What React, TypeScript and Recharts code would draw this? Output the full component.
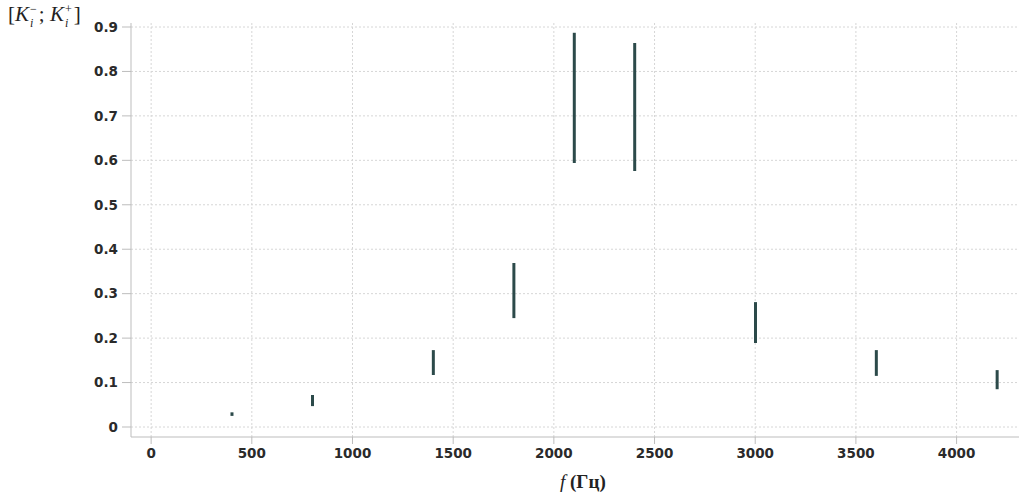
import React from "react";
import {
    ComposedChart,
    Bar,
    XAxis,
    YAxis,
    CartesianGrid,
} from "recharts";

// frequencies (Hz) and interval bounds [K-; K+]
const freqs = [400, 800, 1400, 1800, 2100, 2400, 3000, 3600, 4200];
const kMinus = [0.025, 0.047, 0.117, 0.245, 0.594, 0.576, 0.189, 0.115, 0.085];
const kPlus = [0.033, 0.072, 0.173, 0.369, 0.887, 0.864, 0.281, 0.173, 0.128];

const xTicks = [0, 500, 1000, 1500, 2000, 2500, 3000, 3500, 4000];
const yTicks = [0, 0.1, 0.2, 0.3, 0.4, 0.5, 0.6, 0.7, 0.8, 0.9];

const chartData = freqs.map((f, i) => ({
    f,
    range: [kMinus[i], kPlus[i]],
}));

const tickStyle = {
    fill: "#2a2a2a",
    fontSize: 13.5,
    fontWeight: 700,
    fontFamily: "DejaVu Sans, sans-serif",
};

const scriptStyle: React.CSSProperties = {
    display: "inline-flex",
    flexDirection: "column",
    verticalAlign: "middle",
    fontSize: 12,
    lineHeight: "14px",
    marginLeft: 1,
    marginRight: 2,
};

export default function App() {
    return (
        <div
            style={{
                position: "absolute",
                left: 0,
                top: 0,
                width: 1019,
                height: 494,
                background: "#fff",
                overflow: "hidden",
            }}
        >
            <ComposedChart
                width={1019}
                height={494}
                data={chartData}
                margin={{ top: 23, right: 0, left: 0, bottom: 27 }}
            >
                <CartesianGrid
                    stroke="#d6d6d6"
                    strokeDasharray="2 2"
                    horizontalValues={yTicks}
                    verticalValues={xTicks}
                />
                <XAxis
                    dataKey="f"
                    type="number"
                    domain={[-100, 4310]}
                    ticks={xTicks}
                    allowDataOverflow
                    height={30}
                    stroke="#bdbdbd"
                    tickSize={7}
                    tickMargin={4}
                    tick={tickStyle}
                    interval={0}
                />
                <XAxis
                    xAxisId="top"
                    orientation="top"
                    dataKey="f"
                    type="number"
                    domain={[-100, 4310]}
                    allowDataOverflow
                    height={0}
                    tick={false}
                    tickLine={false}
                    stroke="#c4c4c4"
                />
                <YAxis
                    type="number"
                    domain={[-0.0225, 0.909]}
                    ticks={yTicks}
                    allowDataOverflow
                    width={131}
                    stroke="#bdbdbd"
                    tickSize={9}
                    tickMargin={4}
                    tick={tickStyle}
                    interval={0}
                />
                <Bar
                    dataKey="range"
                    fill="#2c4a4a"
                    barSize={3}
                    isAnimationActive={false}
                />
            </ComposedChart>
            <div
                style={{
                    position: "absolute",
                    left: 8,
                    top: 2,
                    fontFamily: "Liberation Serif, serif",
                    fontSize: 21,
                    color: "#222",
                    whiteSpace: "nowrap",
                }}
            >
                [<i>K</i>
                <span style={scriptStyle}>
                    <span>−</span>
                    <i>i</i>
                </span>
                ; <i>K</i>
                <span style={scriptStyle}>
                    <span>+</span>
                    <i>i</i>
                </span>
                ]
            </div>
            <div
                style={{
                    position: "absolute",
                    left: 560,
                    top: 471,
                    fontFamily: "Liberation Serif, serif",
                    fontSize: 19,
                    color: "#222",
                    whiteSpace: "nowrap",
                }}
            >
                <i>f</i> <b>(Гц)</b>
            </div>
        </div>
    );
}
